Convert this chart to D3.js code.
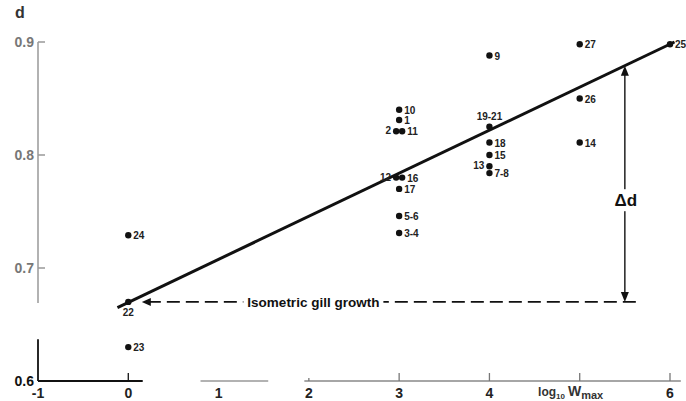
<!DOCTYPE html>
<html><head><meta charset="utf-8">
<script src="https://cdn.jsdelivr.net/npm/d3@7"></script>
<style>body{margin:0;background:#fff}svg{display:block}text{font-family:"Liberation Sans",Arial,sans-serif}</style>
</head><body>
<svg id="c" width="686" height="401"></svg>
<script>
// ---- data ----
const pointLabels = ["22","23","24","10","1","2","11","12","16","17","5-6","3-4","9","19-21","18","15","13","7-8","27","26","14","25"];
const pointX      = [0,0,0,3,3,3,3,3,3,3,3,3,4,4,4,4,4,4,5,5,5,6];
const pointD      = [0.670,0.630,0.729,0.840,0.831,0.821,0.821,0.780,0.780,0.770,0.746,0.731,0.888,0.825,0.811,0.800,0.790,0.784,0.898,0.850,0.811,0.898];
const fitX = [-0.12, 6.05];
const fitD = [0.665, 0.900];
const isoD = 0.67;
const isoX = [0.15, 5.65];
const deltaX = 5.5;
const xTicks = [0,1,2,3,4,5,6];
const xTickLabels = ["-1","0","1","2","3","4","6"];
const xTickLabelPos = [-1,0,1,2,3,4,6];
const yTicks = [0.6,0.7,0.8,0.9];

// ---- drawing ----
const svg = d3.select("#c");
const x = d3.scaleLinear().domain([-1,6]).range([38,670]);
const y = d3.scaleLinear().domain([0.6,0.9]).range([381,42]);
const ink = "#111";

// y axis: upper gray part
svg.append("line").attr("x1",x(-1)).attr("x2",x(-1)).attr("y1",y(0.9)).attr("y2",y(0.669))
  .attr("stroke","#999").attr("stroke-width",1.5);
svg.append("line").attr("x1",x(-1)).attr("x2",x(-1)).attr("y1",y(0.637)).attr("y2",y(0.6))
  .attr("stroke",ink).attr("stroke-width",1.8);
[0.9,0.8,0.7].forEach(v=>{
  svg.append("line").attr("x1",x(-1)).attr("x2",x(-1)+7).attr("y1",y(v)).attr("y2",y(v))
    .attr("stroke","#999").attr("stroke-width",1.5);
});
yTicks.forEach(v=>{
  svg.append("text").attr("x",x(-1)-4).attr("y",y(v)+5).attr("text-anchor","end")
    .attr("font-size",14).attr("font-weight","bold").attr("fill", v===0.6? ink : "#777")
    .text(d3.format(".1f")(v));
});
svg.append("text").attr("x",15).attr("y",18).attr("font-size",16).attr("font-weight","bold").attr("fill","#333").text("d");

// x axis with breaks
const xSegs = [[-1,0.16,ink,1.8],[0.8,1.55,"#999",1.3],[1.95,6.12,"#888",1.3]];
xSegs.forEach(s=>{
  svg.append("line").attr("x1",x(s[0])).attr("x2",x(s[1])).attr("y1",y(0.6)).attr("y2",y(0.6))
    .attr("stroke",s[2]).attr("stroke-width",s[3]);
});
xTicks.forEach(v=>{
  if (v===1) return;
  svg.append("line").attr("x1",x(v)).attr("x2",x(v)).attr("y1",y(0.6)).attr("y2",y(0.6)-(v===2?3:8))
    .attr("stroke", v===0? ink : "#777").attr("stroke-width",1.3);
});
xTickLabels.forEach((t,i)=>{
  svg.append("text").attr("x",x(xTickLabelPos[i])).attr("y",398).attr("text-anchor","middle")
    .attr("font-size",14).attr("font-weight","bold").attr("fill","#222").text(t);
});
const xl = svg.append("text").attr("x",x(4.9)).attr("y",396).attr("text-anchor","middle")
  .attr("font-size",12).attr("font-weight","bold").attr("fill","#333");
xl.append("tspan").text("log");
xl.append("tspan").attr("font-size",8).attr("dy",3).text("10");
xl.append("tspan").attr("dy",-3).attr("dx",3).attr("font-size",14).text("W");
xl.append("tspan").attr("font-size",11).attr("dy",3).text("max");

// regression line
svg.append("line").attr("x1",x(fitX[0])).attr("y1",y(fitD[0])).attr("x2",x(fitX[1])).attr("y2",y(fitD[1]))
  .attr("stroke",ink).attr("stroke-width",3);

// isometric dashed line
svg.append("line").attr("x1",x(isoX[0])+6).attr("x2",x(isoX[1])).attr("y1",y(isoD)).attr("y2",y(isoD))
  .attr("stroke",ink).attr("stroke-width",1.8).attr("stroke-dasharray","13,6");
svg.append("path").attr("d",`M${x(isoX[0])},${y(isoD)} l9,-4 l0,8 z`).attr("fill",ink);
const isoLbl = svg.append("g");
const isoT = isoLbl.append("text").attr("x",x(2.05)).attr("y",y(isoD)+5).attr("text-anchor","middle")
  .attr("font-size",13.5).attr("font-weight","bold").attr("fill",ink).text("Isometric gill growth");
const bb = isoT.node().getBBox();
isoLbl.insert("rect","text").attr("x",bb.x-4).attr("y",bb.y).attr("width",bb.width+8).attr("height",bb.height).attr("fill","#fff");

// delta d arrow
const dTop = fitD[0] + (fitD[1]-fitD[0])*(deltaX-fitX[0])/(fitX[1]-fitX[0]);
svg.append("line").attr("x1",x(deltaX)).attr("x2",x(deltaX)).attr("y1",y(dTop)+6).attr("y2",y(isoD)-6)
  .attr("stroke",ink).attr("stroke-width",1.4);
svg.append("path").attr("d",`M${x(deltaX)},${y(dTop)} l-4,10 l8,0 z`).attr("fill",ink);
svg.append("path").attr("d",`M${x(deltaX)},${y(isoD)} l-4,-10 l8,0 z`).attr("fill",ink);
svg.append("rect").attr("x",x(deltaX)-12).attr("y",y(0.76)-11).attr("width",26).attr("height",22).attr("fill","#fff");
svg.append("text").attr("x",x(deltaX)+1).attr("y",y(0.76)+6).attr("text-anchor","middle")
  .attr("font-size",17).attr("font-weight","bold").attr("fill",ink).text("Δd");

// points
const dxOff = {"2":-3,"11":3,"12":-3,"16":3};
const side = {"22":"below","2":"left","12":"left","13":"left","19-21":"above"};
pointLabels.forEach((lab,i)=>{
  const px = x(pointX[i]) + (dxOff[lab]||0), py = y(pointD[i]);
  svg.append("circle").attr("cx",px).attr("cy",py).attr("r",3.2).attr("fill",ink);
  const s = side[lab] || "right";
  const t = svg.append("text").attr("font-size",10).attr("font-weight","bold").attr("fill","#222").text(lab);
  if (s==="right") t.attr("x",px+5).attr("y",py+4);
  else if (s==="left") t.attr("x",px-5).attr("y",py+3).attr("text-anchor","end");
  else if (s==="below") t.attr("x",px).attr("y",py+14).attr("text-anchor","middle");
  else t.attr("x",px).attr("y",py-7).attr("text-anchor","middle");
});
</script>
</body></html>
